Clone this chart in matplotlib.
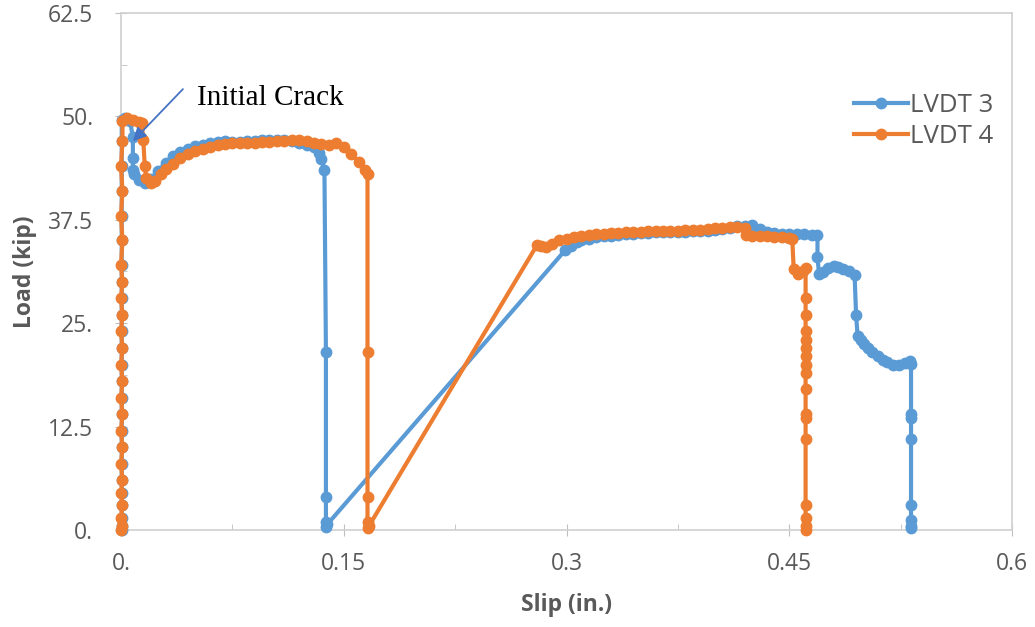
import matplotlib.pyplot as plt

# LVDT 3 (blue)
slip3 = [0.0005, 0.0005, 0.0005, 0.0005, 0.0005, 0.0005, 0.0005, 0.0005, 0.0005, 0.0005,
         0.0005, 0.0005, 0.0005, 0.0005, 0.0005, 0.0005, 0.0005, 0.0005, 0.0005, 0.0005,
         0.0005, 0.0005, 0.0005, 0.0005, 0.0005,
         0.003, 0.006, 0.008, 0.008, 0.008, 0.009, 0.012, 0.016,
         0.02, 0.025, 0.03, 0.035, 0.04, 0.045, 0.05, 0.055, 0.06, 0.065,
         0.07, 0.075, 0.08, 0.085, 0.09, 0.095, 0.1, 0.105, 0.11, 0.115,
         0.12, 0.125, 0.13, 0.133, 0.135, 0.137,
         0.138, 0.138, 0.138, 0.138, 0.139,
         0.299, 0.303, 0.307, 0.31, 0.315, 0.32, 0.325, 0.33, 0.335, 0.34,
         0.345, 0.35, 0.355, 0.36, 0.365, 0.37, 0.375, 0.38, 0.385, 0.39,
         0.395, 0.4, 0.405, 0.41, 0.415, 0.42, 0.425, 0.43, 0.435, 0.44,
         0.445, 0.45, 0.455, 0.46, 0.465, 0.469,
         0.469, 0.47, 0.473, 0.476, 0.48, 0.483, 0.486, 0.49, 0.494,
         0.495, 0.496, 0.498, 0.5, 0.503, 0.506, 0.51, 0.513, 0.516, 0.52,
         0.524, 0.528, 0.531, 0.532,
         0.532, 0.532, 0.532, 0.532, 0.532, 0.532, 0.532]
load3 = [0.0, 0.5, 1.5, 3.0, 4.5, 6.0, 8.0, 10.0, 12.0, 14.0,
         16.0, 18.0, 20.0, 22.0, 24.0, 26.0, 28.0, 30.0, 32.0, 35.0,
         38.0, 41.0, 44.0, 47.0, 49.6,
         49.8, 49.5, 47.5, 45.0, 43.5, 43.0, 42.3, 42.0,
         42.4, 43.4, 44.4, 45.2, 45.7, 46.1, 46.4, 46.6, 46.8, 46.9,
         47.0, 46.9, 46.9, 47.0, 47.0, 47.1, 47.1, 47.2, 47.2, 47.0,
         46.8, 46.5, 46.3, 45.6, 44.8, 43.5,
         21.5, 4.0, 1.0, 0.4, 0.7,
         33.8, 34.3, 34.8, 35.0, 35.2, 35.4, 35.5, 35.6, 35.7, 35.8,
         35.8, 35.9, 35.9, 36.0, 36.0, 36.0, 36.0, 36.0, 36.1, 36.1,
         36.2, 36.3, 36.4, 36.5, 36.7, 36.8, 36.9, 36.4, 36.0, 35.9,
         35.8, 35.8, 35.8, 35.8, 35.7, 35.7,
         33.0, 31.0, 31.2, 31.7, 31.9, 31.8, 31.6, 31.3, 30.8,
         26.0, 23.5, 23.0, 22.5, 22.0, 21.5, 21.0, 20.6, 20.3, 20.0,
         20.0, 20.2, 20.4, 20.1,
         14.0, 13.5, 11.0, 3.0, 1.2, 0.5, 0.2]

# LVDT 4 (orange)
slip4 = [0.0, 0.001, 0.0, 0.001, 0.0, 0.001, 0.0, 0.001, 0.0, 0.001,
         0.0, 0.001, 0.0, 0.001, 0.0, 0.001, 0.0, 0.001, 0.0, 0.001,
         0.0, 0.001, 0.0, 0.001, 0.001,
         0.004, 0.008, 0.012, 0.014, 0.015, 0.016, 0.017,
         0.02, 0.023, 0.027, 0.03, 0.035, 0.04, 0.045, 0.05, 0.055, 0.06,
         0.065, 0.07, 0.075, 0.08, 0.085, 0.09, 0.095, 0.1, 0.105, 0.11,
         0.115, 0.12, 0.125, 0.13, 0.135, 0.14, 0.145, 0.15, 0.155, 0.16,
         0.164, 0.166,
         0.166, 0.166, 0.166, 0.166, 0.167,
         0.28, 0.283, 0.286, 0.29, 0.295, 0.3, 0.305, 0.31, 0.315, 0.32,
         0.325, 0.33, 0.335, 0.34, 0.345, 0.35, 0.355, 0.36, 0.365, 0.37,
         0.375, 0.38, 0.385, 0.39, 0.395, 0.4, 0.405, 0.41, 0.415, 0.42,
         0.421, 0.425, 0.43, 0.435, 0.44, 0.445, 0.45, 0.452,
         0.453, 0.456, 0.459, 0.461,
         0.461, 0.461, 0.461, 0.461, 0.461, 0.461, 0.461, 0.461, 0.461, 0.461,
         0.461, 0.461, 0.461, 0.461, 0.461, 0.461]
load4 = [0.0, 0.5, 1.5, 3.0, 4.5, 6.0, 8.0, 10.0, 12.0, 14.0,
         16.0, 18.0, 20.0, 22.0, 24.0, 26.0, 28.0, 30.0, 32.0, 35.0,
         38.0, 41.0, 44.0, 47.0, 49.5,
         49.8, 49.6, 49.3, 49.2, 47.2, 44.0, 42.5,
         41.9, 42.2, 43.0, 43.6, 44.3, 45.0, 45.4, 45.8, 46.1, 46.3,
         46.5, 46.7, 46.8, 46.8, 46.8, 46.8, 46.9, 46.9, 47.0, 47.0,
         47.1, 47.1, 47.0, 46.8, 46.7, 46.6, 46.8, 46.3, 45.5, 44.5,
         43.5, 43.0,
         21.5, 4.0, 1.0, 0.3, 0.5,
         34.4, 34.3, 34.2, 34.6, 35.0, 35.2, 35.4, 35.6, 35.7, 35.8,
         35.8, 35.9, 35.9, 36.0, 36.0, 36.0, 36.1, 36.1, 36.2, 36.2,
         36.2, 36.3, 36.3, 36.3, 36.4, 36.5, 36.5, 36.6, 36.6, 36.5,
         35.7, 35.6, 35.5, 35.5, 35.4, 35.4, 35.3, 35.2,
         31.5, 31.0, 31.3, 31.7,
         28.0, 26.0, 24.0, 23.0, 22.0, 21.0, 20.0, 19.0, 17.0, 14.0,
         13.5, 11.0, 3.0, 1.5, 0.5, 0.0]

xticks = [0.0, 0.15, 0.3, 0.45, 0.6]
xlabels = ['0.', '0.15', '0.3', '0.45', '0.6']
yticks = [0.0, 12.5, 25.0, 37.5, 50.0, 62.5]
ylabels = ['0.', '12.5', '25.', '37.5', '50.', '62.5']

blue = '#5B9BD5'
orange = '#ED7D31'
gray = '#595959'

plt.rcParams['font.family'] = ['Open Sans', 'DejaVu Sans']

fig = plt.figure(figsize=(10.35, 6.27), dpi=100)
ax = fig.add_axes([0.1169, 0.1547, 0.8609, 0.8246])

ax.plot(slip3, load3, color=blue, lw=3, marker='o', ms=7.5, label='LVDT 3',
        zorder=3, clip_on=False)
ax.plot(slip4, load4, color=orange, lw=3, marker='o', ms=7.5, label='LVDT 4',
        zorder=4, clip_on=False)

ax.set_xlim(0, 0.6)
ax.set_ylim(0, 62.5)
ax.set_xticks(xticks)
ax.set_xticklabels(xlabels)
ax.set_yticks(yticks)
ax.set_yticklabels(ylabels)
ax.set_xticks([0.075, 0.225, 0.375, 0.525], minor=True)
ax.set_yticks([6.25, 18.75, 31.25, 43.75, 56.25], minor=True)
ax.tick_params(which='major', direction='inout', length=8, color='#BFBFBF',
               labelsize=16.5, labelcolor=gray)
ax.tick_params(axis='x', which='major', pad=12)
ax.tick_params(axis='y', which='major', pad=16)
ax.tick_params(which='minor', direction='in', length=4, color='#BFBFBF')
for s in ax.spines.values():
    s.set_color('#D0D0D0')
    s.set_linewidth(1.2)

ax.set_xlabel('Slip (in.)', fontsize=16.5, fontweight='bold', color=gray, labelpad=12)
ax.set_ylabel('Load (kip)', fontsize=16.5, fontweight='bold', color=gray, labelpad=8)

ax.text(0.051, 52.2, 'Initial Crack', fontsize=21, family='Liberation Serif', va='center')
ax.annotate('', xy=(0.008, 47.0), xytext=(0.0417, 53.3), zorder=6,
            arrowprops=dict(arrowstyle='-|>', color='#4472C4', lw=1.3,
                            shrinkA=0, shrinkB=0, mutation_scale=20))

leg = ax.legend(loc='upper right', bbox_to_anchor=(1.005, 0.89), frameon=False,
                fontsize=18.5, handlelength=2.1, handletextpad=0.1, labelspacing=0.25)
for t in leg.get_texts():
    t.set_color(gray)

plt.savefig('out.png')
